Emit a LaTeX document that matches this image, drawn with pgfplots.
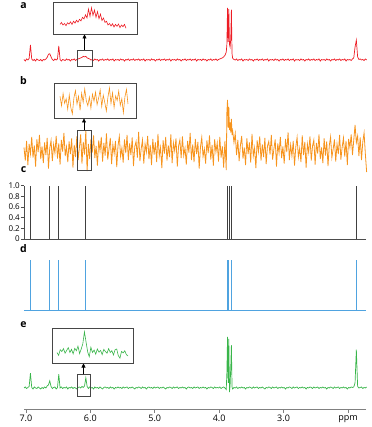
\documentclass[border=0pt]{standalone}
\usepackage{pgfplots}
\pgfplotsset{compat=1.18}
\usepackage{pgfplotstable}
\usepackage{fontspec}
\setmainfont{Open Sans}
\usetikzlibrary{arrows.meta}

\definecolor{specred}{RGB}{237,28,36}
\definecolor{specorange}{RGB}{247,148,29}
\definecolor{specgreen}{RGB}{57,181,74}
\definecolor{specblue}{RGB}{79,163,224}
\definecolor{framegray}{RGB}{70,70,70}

% columns: a = red, b = orange, e = green spectrum
\pgfplotstableread{
ppm a b e
7.03 0.01 0.05 0.00
7.01 -0.02 -0.21 0.02
6.99 0.02 0.18 -0.01
6.97 0.00 -0.30 0.01
6.95 0.03 0.12 0.03
6.93 0.29 -0.08 0.29
6.91 0.02 0.26 0.01
6.89 -0.01 -0.15 -0.02
6.87 0.01 0.09 0.02
6.85 -0.02 -0.33 0.00
6.83 0.02 0.21 -0.01
6.81 0.00 -0.04 0.02
6.79 -0.01 0.30 0.00
6.77 0.01 -0.18 -0.02
6.75 -0.02 0.07 0.01
6.73 0.01 -0.26 -0.01
6.71 0.00 0.15 0.02
6.69 0.02 -0.10 0.00
6.67 0.05 0.24 0.04
6.65 0.11 -0.37 0.06
6.63 0.12 0.04 0.14
6.61 0.06 0.19 0.03
6.59 0.01 -0.22 -0.01
6.57 -0.01 0.11 0.01
6.55 0.02 -0.06 0.02
6.53 0.00 0.28 -0.02
6.51 0.02 -0.17 0.01
6.49 0.27 0.13 0.27
6.47 0.01 -0.29 0.00
6.45 -0.02 0.20 0.02
6.43 0.01 -0.03 -0.01
6.41 0.00 0.34 0.01
6.39 -0.01 -0.12 0.00
6.37 0.02 0.06 0.02
6.35 0.00 -0.24 -0.02
6.33 0.01 0.17 0.01
6.31 -0.02 -0.08 0.00
6.29 0.01 0.23 0.02
6.27 0.00 -0.35 -0.01
6.25 0.02 0.10 0.01
6.23 -0.01 -0.14 0.00
6.21 0.01 0.27 -0.02
6.19 0.02 -0.20 0.01
6.17 0.03 0.05 0.02
6.15 0.04 0.31 0.00
6.13 0.05 -0.27 0.03
6.11 0.07 0.16 0.01
6.09 0.06 -0.09 0.04
6.07 0.07 0.38 0.20
6.05 0.04 -0.42 0.03
6.03 0.03 0.12 -0.01
6.01 0.02 -0.18 0.02
5.99 0.00 0.22 0.00
5.97 0.01 -0.05 0.01
5.95 -0.01 0.29 -0.02
5.93 0.02 -0.16 0.02
5.91 0.00 0.08 0.00
5.89 0.01 -0.31 0.01
5.87 -0.02 0.19 -0.01
5.85 0.01 -0.02 0.02
5.83 0.00 0.26 0.00
5.81 0.02 -0.23 -0.02
5.79 -0.01 0.14 0.01
5.77 0.01 -0.11 0.02
5.75 0.00 0.33 0.00
5.73 0.02 -0.19 0.01
5.71 -0.01 0.02 -0.01
5.69 0.01 0.24 0.02
5.67 0.00 -0.28 0.00
5.65 0.02 0.11 0.01
5.63 -0.02 -0.07 -0.02
5.61 0.01 0.18 0.01
5.59 0.00 -0.34 0.00
5.57 0.01 0.09 0.02
5.55 -0.01 0.27 0.00
5.53 0.02 -0.13 0.01
5.51 0.00 0.04 -0.01
5.49 0.01 -0.25 0.02
5.47 -0.02 0.21 0.00
5.45 0.01 -0.06 0.01
5.43 0.00 0.30 0.02
5.41 0.02 -0.20 -0.01
5.39 -0.01 0.13 0.01
5.37 0.01 -0.10 0.00
5.35 0.00 0.25 0.02
5.33 0.02 -0.32 0.00
5.31 -0.01 0.07 -0.02
5.29 0.01 0.17 0.01
5.27 0.00 -0.15 0.00
5.25 0.02 0.36 0.02
5.23 -0.01 -0.22 0.01
5.21 0.01 0.03 -0.01
5.19 0.00 0.20 0.02
5.17 0.02 -0.27 0.00
5.15 -0.02 0.12 0.01
5.13 0.01 -0.04 -0.02
5.11 0.00 0.28 0.01
5.09 0.01 -0.18 0.02
5.07 -0.01 0.10 0.00
5.05 0.02 -0.30 0.01
5.03 0.00 0.22 -0.01
5.01 0.01 -0.09 0.02
4.99 -0.02 0.15 0.00
4.97 0.01 -0.24 0.01
4.95 0.00 0.32 0.02
4.93 0.02 -0.12 -0.01
4.91 -0.01 0.05 0.01
4.89 0.01 -0.36 0.00
4.87 0.00 0.19 0.02
4.85 0.02 -0.07 0.00
4.83 -0.01 0.26 -0.02
4.81 0.01 -0.21 0.01
4.79 0.00 0.09 0.00
4.77 0.02 -0.14 0.02
4.75 -0.02 0.31 0.01
4.73 0.01 -0.26 -0.01
4.71 0.00 0.14 0.02
4.69 0.01 -0.02 0.00
4.67 -0.01 0.23 0.01
4.65 0.02 -0.33 0.02
4.63 0.00 0.08 -0.01
4.61 0.01 0.20 0.01
4.59 -0.02 -0.16 0.00
4.57 0.01 0.27 0.02
4.55 0.00 -0.11 0.00
4.53 0.02 0.04 0.01
4.51 -0.01 -0.29 -0.02
4.49 0.01 0.18 0.01
4.47 0.00 -0.05 0.02
4.45 0.02 0.34 0.00
4.43 -0.01 -0.20 0.01
4.41 0.01 0.11 -0.01
4.39 0.00 -0.24 0.02
4.37 0.02 0.22 0.00
4.35 -0.02 -0.08 0.01
4.33 0.01 0.16 0.02
4.31 0.00 -0.37 -0.01
4.29 0.01 0.06 0.01
4.27 -0.01 0.25 0.00
4.25 0.02 -0.13 0.02
4.23 0.00 0.02 0.00
4.21 0.01 -0.27 0.01
4.19 -0.02 0.19 -0.02
4.17 0.01 -0.06 0.01
4.15 0.00 0.29 0.00
4.13 0.02 -0.19 0.02
4.11 -0.01 0.10 0.01
4.09 0.01 -0.31 -0.01
4.07 0.00 0.21 0.02
4.05 0.02 -0.04 0.00
4.03 -0.01 0.14 0.01
4.01 0.01 -0.23 0.00
3.99 0.02 0.26 0.02
3.97 0.03 -0.15 -0.01
3.95 0.04 0.07 0.01
3.93 0.06 -0.35 0.02
3.91 0.09 0.18 0.00
3.89 0.15 -0.40 -0.03
3.88 0.30 0.75 0.30
3.87 1.00 1.00 1.00
3.86 0.35 0.45 0.10
3.85 0.98 0.86 0.96
3.84 0.30 0.40 -0.08
3.83 0.25 0.55 0.05
3.82 0.40 0.35 0.40
3.81 0.97 0.62 0.84
3.80 0.12 0.30 0.02
3.79 0.03 0.38 -0.02
3.77 0.01 0.15 0.01
3.75 0.00 0.33 0.00
3.73 0.02 -0.10 0.02
3.71 -0.01 0.20 -0.01
3.69 0.01 -0.22 0.01
3.67 0.00 0.09 0.00
3.65 0.02 0.28 0.02
3.63 -0.02 -0.17 0.00
3.61 0.01 0.05 0.01
3.59 0.00 -0.30 -0.02
3.57 0.01 0.23 0.01
3.55 -0.01 -0.08 0.00
3.53 0.02 0.15 0.02
3.51 0.00 -0.25 0.01
3.49 0.01 0.32 -0.01
3.47 -0.02 -0.12 0.02
3.45 0.01 0.04 0.00
3.43 0.00 -0.36 0.01
3.41 0.02 0.19 0.02
3.39 -0.01 -0.03 -0.01
3.37 0.01 0.27 0.01
3.35 0.00 -0.21 0.00
3.33 0.02 0.11 0.02
3.31 -0.01 -0.14 0.00
3.29 0.01 0.24 -0.02
3.27 0.00 -0.28 0.01
3.25 0.02 0.08 0.00
3.23 -0.02 0.17 0.02
3.21 0.01 -0.09 0.01
3.19 0.00 0.30 -0.01
3.17 0.01 -0.19 0.02
3.15 -0.01 0.02 0.00
3.13 0.02 0.21 0.01
3.11 0.00 -0.33 0.02
3.09 0.01 0.13 -0.01
3.07 -0.02 -0.06 0.01
3.05 0.01 0.26 0.00
3.03 0.00 -0.16 0.02
3.01 0.02 0.07 0.00
2.99 -0.01 -0.27 0.01
2.97 0.01 0.22 -0.02
2.95 0.00 -0.04 0.01
2.93 0.02 0.35 0.00
2.91 -0.01 -0.20 0.02
2.89 0.01 0.10 0.01
2.87 0.00 -0.12 -0.01
2.85 0.02 0.18 0.02
2.83 -0.02 -0.31 0.00
2.81 0.01 0.06 0.01
2.79 0.00 0.25 0.02
2.77 0.01 -0.14 -0.01
2.75 -0.01 0.03 0.01
2.73 0.02 -0.24 0.00
2.71 0.00 0.29 0.02
2.69 0.01 -0.10 0.00
2.67 -0.02 0.16 0.01
2.65 0.01 -0.35 -0.02
2.63 0.00 0.12 0.01
2.61 0.02 -0.05 0.00
2.59 -0.01 0.27 0.02
2.57 0.01 -0.21 0.01
2.55 0.00 0.08 -0.01
2.53 0.02 0.20 0.02
2.51 -0.01 -0.29 0.00
2.49 0.01 0.14 0.01
2.47 0.00 -0.07 0.02
2.45 0.02 0.31 -0.01
2.43 -0.02 -0.18 0.01
2.41 0.01 0.05 0.00
2.39 0.00 -0.26 0.02
2.37 0.01 0.23 0.00
2.35 -0.01 -0.11 0.01
2.33 0.02 0.17 -0.02
2.31 0.00 -0.32 0.01
2.29 0.01 0.09 0.00
2.27 -0.02 0.26 0.02
2.25 0.01 -0.15 0.01
2.23 0.00 0.02 -0.01
2.21 0.02 0.21 0.02
2.19 -0.01 -0.23 0.00
2.17 0.01 0.12 0.01
2.15 0.00 -0.08 0.02
2.13 0.02 0.30 -0.01
2.11 -0.01 -0.19 0.01
2.09 0.01 0.06 0.00
2.07 0.00 0.24 0.02
2.05 0.02 -0.13 0.00
2.03 -0.02 0.18 0.01
2.01 0.01 -0.30 -0.02
1.99 0.00 0.22 0.01
1.97 0.01 0.05 0.00
1.95 -0.01 0.31 0.02
1.93 0.02 -0.10 0.01
1.91 0.04 0.20 0.02
1.89 0.25 0.50 0.10
1.87 0.38 0.15 0.75
1.85 0.06 0.28 0.03
1.83 0.01 -0.12 0.00
1.81 0.02 0.25 0.01
1.79 0.00 -0.20 0.02
1.77 0.01 0.16 -0.01
1.75 -0.01 0.34 0.01
1.73 0.02 -0.08 0.00
1.71 0.00 -0.44 0.02
}\spectra

% magnified 6.20-5.98 ppm windows
\pgfplotstableread{
ppm a b e
6.200 0.30 0.62 0.30
6.195 0.36 0.35 0.22
6.190 0.28 0.70 0.38
6.185 0.33 0.42 0.33
6.180 0.26 0.55 0.41
6.175 0.35 0.25 0.28
6.170 0.31 0.66 0.36
6.165 0.38 0.30 0.44
6.160 0.30 0.12 0.30
6.155 0.40 0.58 0.39
6.150 0.34 0.78 0.26
6.145 0.43 0.40 0.42
6.140 0.37 0.62 0.35
6.135 0.46 0.22 0.48
6.130 0.41 0.71 0.27
6.125 0.52 0.45 0.40
6.120 0.47 0.83 0.55
6.115 0.60 0.50 0.89
6.110 0.50 0.35 0.60
6.105 0.78 0.60 0.32
6.100 0.55 0.28 0.18
6.095 0.82 0.68 0.45
6.090 0.58 0.48 0.30
6.085 0.75 0.74 0.37
6.080 0.52 0.38 0.25
6.075 0.70 0.57 0.40
6.070 0.48 0.80 0.31
6.065 0.62 0.33 0.36
6.060 0.42 0.65 0.24
6.055 0.50 0.44 0.39
6.050 0.36 0.20 0.33
6.045 0.40 0.59 0.28
6.040 0.28 0.86 0.41
6.035 0.33 0.41 0.30
6.030 0.25 0.72 0.35
6.025 0.32 0.30 0.23
6.020 0.22 0.63 0.38
6.015 0.30 0.50 0.40
6.010 0.24 0.77 0.21
6.005 0.31 0.36 0.14
6.000 0.20 0.55 0.33
5.995 0.28 0.15 0.29
5.990 0.23 0.60 0.35
5.985 0.30 0.82 0.24
5.980 0.18 0.40 0.20
}\insets

\pgfplotstableread{
ppm int
6.93 1
6.64 1
6.49 1
6.08 1
3.87 1
3.85 1
3.81 1
1.87 1
}\sticks

\pgfplotsset{
  panel/.style={scale only axis, width=342pt, x dir=reverse,
    xmin=1.72, xmax=7.03, anchor=south west, clip=false},
  inset/.style={scale only axis, x dir=reverse, xtick=\empty, ytick=\empty,
    ymin=0, ymax=1, anchor=south west, clip=false,
    axis line style={draw=framegray, line width=0.8pt}},
}

\begin{document}
\begin{tikzpicture}
\useasboundingbox (0pt,0pt) rectangle (371pt,-427pt);

% a
\begin{axis}[panel, hide axis, at={(24pt,-67.8pt)}, height=65pt, ymin=-0.15, ymax=1.1]
\addplot[specred, line width=0.7pt] table[x=ppm, y=a]{\spectra};
\end{axis}

% b
\begin{axis}[panel, hide axis, at={(24pt,-175pt)}, height=75pt, ymin=-0.5, ymax=1.0]
\addplot[specorange, line width=0.8pt] table[x=ppm, y=b]{\spectra};
\end{axis}

% c
\begin{axis}[panel, at={(24pt,-239pt)}, height=53.3pt, ymin=0, ymax=1,
  axis x line=bottom, axis y line=left,
  axis line style={-, draw=black!70, line width=0.6pt},
  xtick=\empty, ytick={0,0.2,0.4,0.6,0.8,1},
  yticklabels={0,0.2,0.4,0.6,0.8,1.0},
  tick align=outside, major tick length=3pt,
  tick style={black!70, line width=0.6pt},
  y tick label style={font=\fontsize{8}{8}\selectfont, inner sep=1pt}]
\addplot[ycomb, black!75, line width=0.6pt] table[x=ppm, y=int]{\sticks};
\end{axis}

% d
\begin{axis}[panel, hide axis, at={(24pt,-310.7pt)}, height=50.7pt, ymin=0, ymax=1]
\addplot[specblue, line width=1.5pt] coordinates {(7.03,0) (1.72,0)};
\addplot[ycomb, specblue, line width=0.7pt] table[x=ppm, y=int]{\sticks};
\end{axis}

% e
\begin{axis}[panel, at={(24pt,-408.9pt)}, height=74.5pt, ymin=-0.41, ymax=1.05,
  axis x line=bottom, axis y line=none, ytick=\empty,
  x axis line style={-, draw=black!50, line width=0.8pt},
  xtick={7,6,5,4,3,2}, xticklabels={7.0,6.0,5.0,4.0,3.0,ppm},
  tick align=outside, major tick length=4pt,
  tick style={black!50, line width=0.8pt},
  x tick label style={font=\fontsize{9}{10}\selectfont, inner sep=2pt}]
\addplot[specgreen, line width=0.7pt] table[x=ppm, y=e]{\spectra};
\end{axis}

% insets
\begin{axis}[inset, at={(53pt,-34pt)}, width=84pt, height=32pt, xmin=5.9433, xmax=6.2233]
\addplot[specred, line width=0.6pt] table[x=ppm, y=a]{\insets};
\end{axis}
\begin{axis}[inset, at={(54pt,-118pt)}, width=82pt, height=35pt, xmin=5.9541, xmax=6.2194]
\addplot[specorange, line width=0.6pt] table[x=ppm, y=b]{\insets};
\end{axis}
\begin{axis}[inset, at={(52pt,-363pt)}, width=81pt, height=35pt, xmin=5.9645, xmax=6.2155]
\addplot[specgreen, line width=0.6pt] table[x=ppm, y=e]{\insets};
\end{axis}

% zoom windows and arrows
\draw[framegray, line width=0.8pt] (77pt,-50pt) rectangle (92pt,-66pt);
\draw[framegray, line width=0.8pt] (77pt,-130pt) rectangle (91pt,-170pt);
\draw[framegray, line width=0.8pt] (77pt,-374pt) rectangle (90pt,-396pt);
\draw[-{Triangle[length=4pt,width=4pt]}, black, line width=0.6pt] (84.5pt,-50pt) -- (84.5pt,-34.5pt);
\draw[-{Triangle[length=4pt,width=4pt]}, black, line width=0.6pt] (84pt,-130pt) -- (84pt,-118.5pt);
\draw[-{Triangle[length=4pt,width=4pt]}, black, line width=0.6pt] (83.5pt,-374pt) -- (83.5pt,-363.5pt);

% panel letters
\foreach \lab/\yy in {a/5.5, b/80.8, c/170, d/248.5, e/325}
  \node[font=\bfseries\fontsize{10.5}{10.5}\selectfont, inner sep=0pt] at (23.5pt,-\yy pt) {\lab};
\end{tikzpicture}
\end{document}
